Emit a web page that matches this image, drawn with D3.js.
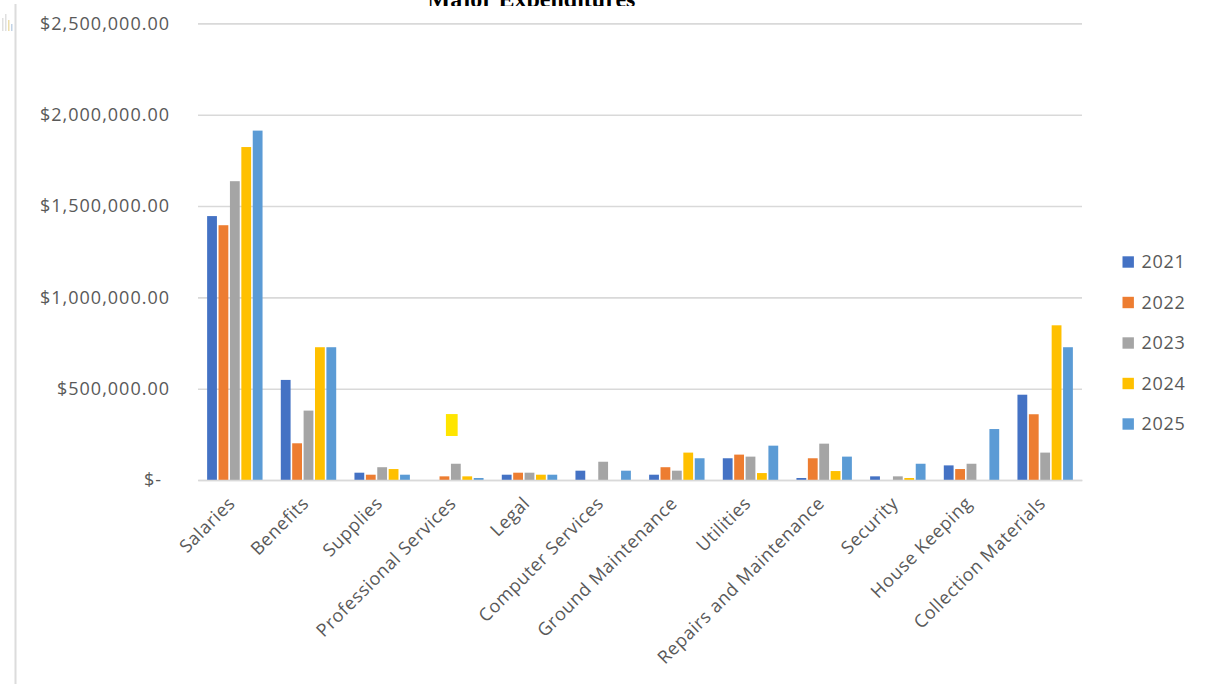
<!DOCTYPE html>
<html>
<head>
<meta charset="utf-8">
<script src="https://cdn.jsdelivr.net/npm/d3@7"></script>
<style>
  html, body { margin: 0; padding: 0; background: #fff; }
  svg { display: block; }
</style>
</head>
<body>
<svg id="chart" width="1215" height="684"></svg>
<script>
// ---------------- data ----------------
const title = "Major Expenditures";
const categories = ["Salaries", "Benefits", "Supplies", "Professional Services", "Legal",
  "Computer Services", "Ground Maintenance", "Utilities", "Repairs and Maintenance",
  "Security", "House Keeping", "Collection Materials"];
const years = ["2021", "2022", "2023", "2024", "2025"];
const values2021 = [1445000, 548000, 40000, 0, 29000, 51000, 29000, 119000, 11000, 20000, 80000, 467000];
const values2022 = [1395000, 201000, 29000, 20000, 40000, 0, 70000, 139000, 119000, 0, 60000, 360000];
const values2023 = [1636000, 380000, 70000, 89000, 40000, 100000, 51000, 128000, 199000, 20000, 89000, 150000];
const values2024 = [1823000, 727000, 60000, 20000, 29000, 0, 150000, 38000, 49000, 11000, 0, 847000];
const values2025 = [1913000, 727000, 29000, 11000, 29000, 51000, 119000, 188000, 128000, 89000, 279000, 727000];
const tickValues = [0, 500000, 1000000, 1500000, 2000000, 2500000];
const tickLabels = ["$-", "$500,000.00", "$1,000,000.00", "$1,500,000.00", "$2,000,000.00", "$2,500,000.00"];
const colors = ["#4472C4", "#ED7D31", "#A5A5A5", "#FFC000", "#5B9BD5"];
// stray highlight mark seen in the picture (category, value range, slot range within group)
const highlightCategory = "Professional Services";
const highlightRange = [241000, 361000];
const highlightSlots = [1.63, 2.66];

const series = [values2021, values2022, values2023, values2024, values2025];

// ---------------- layout ----------------
const svg = d3.select("#chart");
const plot = { left: 198, right: 1082, top: 23.4, bottom: 480 };

const x0 = d3.scaleBand().domain(categories).range([plot.left, plot.right]).paddingInner(0.226).paddingOuter(0.113);
const x1 = d3.scaleBand().domain(years).range([0, x0.bandwidth()]);
const y = d3.scaleLinear().domain([0, 2500000]).range([plot.bottom, plot.top]);
const slot = d3.scaleLinear().domain([0, years.length]).range([0, x0.bandwidth()]);

const font = "'Open Sans', 'Noto Sans', sans-serif";

// left frame line and tiny icon
svg.append("line").attr("x1", 15.5).attr("x2", 15.5).attr("y1", 4).attr("y2", 684)
  .attr("stroke", "#dcdcdc").attr("stroke-width", 2);
const icon = svg.append("g").attr("opacity", 0.45);
[[2, 18, "#bbb"], [5, 14, "#bbb"], [8, 20, "#d8b84a"], [11, 24, "#7aa0c8"]].forEach(function (d) {
  icon.append("rect").attr("x", d[0]).attr("y", d[1]).attr("width", 1.5).attr("height", 31 - d[1]).attr("fill", d[2]);
});

// title (clipped at top of the picture, as in the reference)
svg.append("clipPath").attr("id", "titleClip").append("rect").attr("x", 0).attr("y", 0).attr("width", 1215).attr("height", 6);
svg.append("text").attr("x", 531.5).attr("y", 6.5).attr("text-anchor", "middle")
  .attr("clip-path", "url(#titleClip)")
  .attr("font-family", "'Liberation Serif', 'DejaVu Serif', serif").attr("font-weight", "bold")
  .attr("font-size", 24).attr("fill", "#000").text(title);

// gridlines + y labels
const yAxis = d3.axisLeft(y).tickValues(tickValues).tickSize(-(plot.right - plot.left)).tickPadding(28)
  .tickFormat((d, i) => tickLabels[i]);
const gy = svg.append("g").attr("transform", `translate(${plot.left},0)`).call(yAxis);
gy.select(".domain").remove();
gy.selectAll(".tick line").attr("stroke", "#d9d9d9").attr("stroke-width", 1.6);
gy.selectAll(".tick text").attr("font-family", font).attr("font-size", 18).attr("fill", "#595959")
  .attr("letter-spacing", 1.0)
  .attr("dx", (d) => d === 0 ? -8 : 0);

// bars
const groups = svg.append("g").selectAll("g").data(categories).join("g")
  .attr("transform", (d) => `translate(${x0(d)},0)`);
groups.selectAll("rect").data((d, i) => years.map((yr, k) => ({ yr: yr, k: k, v: series[k][i] })))
  .join("rect")
  .attr("x", (d) => x1(d.yr) + 0.8)
  .attr("width", x1.bandwidth() - 1.6)
  .attr("y", (d) => y(d.v))
  .attr("height", (d) => y(0) - y(d.v))
  .attr("fill", (d) => colors[d.k]);

// highlight mark
svg.append("rect")
  .attr("x", x0(highlightCategory) + slot(highlightSlots[0]))
  .attr("width", slot(highlightSlots[1]) - slot(highlightSlots[0]))
  .attr("y", y(highlightRange[1]))
  .attr("height", y(highlightRange[0]) - y(highlightRange[1]))
  .attr("fill", "#FFE500");

// x axis
const xAxis = d3.axisBottom(x0).tickSize(0).tickPadding(0);
const gx = svg.append("g").attr("transform", `translate(0,${plot.bottom})`).call(xAxis);
gx.select(".domain").attr("stroke", "#d9d9d9").attr("stroke-width", 1.6);
gx.selectAll(".tick text")
  .attr("font-family", font).attr("font-size", 18).attr("fill", "#595959").attr("letter-spacing", 0.6)
  .attr("text-anchor", "end")
  .attr("transform", "translate(-3,20) rotate(-45)")
  .attr("dy", "0.35em").attr("y", 0);

// legend
const legend = svg.append("g").selectAll("g").data(years).join("g")
  .attr("transform", (d, i) => `translate(1122.5,${262 + i * 40.5})`);
legend.append("rect").attr("x", 0).attr("y", -5.7).attr("width", 11.4).attr("height", 11.4)
  .attr("fill", (d, i) => colors[i]);
legend.append("text").attr("x", 19).attr("y", 0).attr("dy", "0.35em")
  .attr("font-family", font).attr("font-size", 18).attr("fill", "#595959").attr("letter-spacing", 0.7)
  .text((d) => d);
</script>
</body>
</html>
